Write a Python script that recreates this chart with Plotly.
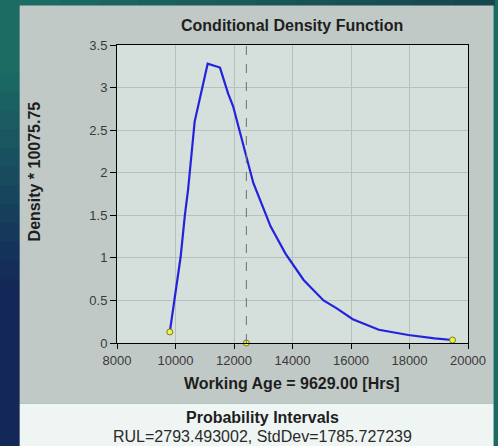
import plotly.graph_objects as go

# ---- data ----
working_age = 9629.00
rul = 2793.493002
std_dev = 1785.727239
density_scale = 10075.75

age_hrs = [9805, 10175, 10320, 10430, 10655, 11100, 11520, 11800, 11970, 12360,
           12660, 13250, 13760, 14380, 15060, 15500, 16060, 16950, 17960, 18860, 19470]
density = [0.13, 1.01, 1.50, 1.80, 2.60, 3.28, 3.235, 2.93, 2.78, 2.27,
           1.88, 1.37, 1.05, 0.74, 0.50, 0.41, 0.28, 0.155, 0.094, 0.055, 0.035]

x_ticks = [8000, 10000, 12000, 14000, 16000, 18000, 20000]
y_ticks = [0, 0.5, 1, 1.5, 2, 2.5, 3, 3.5]
y_tick_labels = ["0", "0.5", "1", "1.5", "2", "2.5", "3", "3.5"]

mean_age = working_age + rul
marker_x = [age_hrs[0], mean_age, age_hrs[-1]]
marker_y = [density[0], 0, density[-1]]

# ---- geometry (pixels) ----
W, H = 498, 446
L, R, T, B = 117, 474, 45, 343
PW, PH = R - L, B - T


def px(xp):
    return (xp - L) / PW


def py(yp):
    return (B - yp) / PH


fig = go.Figure()

fig.add_trace(go.Scatter(
    x=age_hrs, y=density, mode="lines",
    line=dict(color="#2323dc", width=2.2),
    hoverinfo="skip", showlegend=False,
))
fig.add_trace(go.Scatter(
    x=marker_x, y=marker_y, mode="markers",
    marker=dict(color="#f2f246", size=6, line=dict(color="#7a7a20", width=1)),
    hoverinfo="skip", showlegend=False, cliponaxis=False,
))

shapes = []
# left strip gradient
n = 24
top_c = (28, 108, 100)
bot_c = (20, 40, 88)
for i in range(n):
    y0p = -2 + i * (H + 4) / n
    y1p = -2 + (i + 1) * (H + 4) / n + 1.5
    t = min(1.0, max(0.0, (y0p - 60) / 220))
    c = tuple(int(top_c[k] + (bot_c[k] - top_c[k]) * t) for k in range(3))
    shapes.append(dict(type="rect", xref="paper", yref="paper", layer="below",
                       x0=px(-2), x1=px(19), y0=py(y1p), y1=py(y0p),
                       fillcolor="rgb(%d,%d,%d)" % c, line=dict(width=0)))
# top strip gradient
m = 12
left_c = (28, 108, 100)
right_c = (22, 70, 78)
for i in range(m):
    x0p = 18 + i * (W - 18 + 2) / m
    x1p = 18 + (i + 1) * (W - 18 + 2) / m + 1.5
    t = i / (m - 1)
    c = tuple(int(left_c[k] + (right_c[k] - left_c[k]) * t) for k in range(3))
    shapes.append(dict(type="rect", xref="paper", yref="paper", layer="below",
                       x0=px(x0p), x1=px(x1p), y0=py(6), y1=py(-2),
                       fillcolor="rgb(%d,%d,%d)" % c, line=dict(width=0)))
# gray panel
shapes.append(dict(type="rect", xref="paper", yref="paper", layer="below",
                   x0=px(18), x1=px(W + 2), y0=py(403.5), y1=py(5.5),
                   fillcolor="#c1c9c6", line=dict(width=0)))
# plot area background
shapes.append(dict(type="rect", xref="paper", yref="paper", layer="below",
                   x0=0, x1=1, y0=0, y1=1,
                   fillcolor="#d5dfdc", line=dict(width=0)))
# bottom light panel
shapes.append(dict(type="rect", xref="paper", yref="paper", layer="below",
                   x0=px(18), x1=px(W + 2), y0=py(H + 2), y1=py(403.5),
                   fillcolor="#eef5f3", line=dict(width=0)))
# dashed mean line
shapes.append(dict(type="line", xref="x", yref="y",
                   x0=mean_age, x1=mean_age, y0=0, y1=3.5,
                   line=dict(color="#707070", width=1, dash="dash")))

font_family = "Liberation Sans, Arial, sans-serif"

annotations = [
    dict(text="<b>Conditional Density Function</b>", xref="paper", yref="paper",
         x=px(295), y=py(26), showarrow=False, xanchor="center", yanchor="middle",
         font=dict(size=16, color="#1e1e1e", family=font_family)),
    dict(text="<b>Working Age = %.2f [Hrs]</b>" % working_age, xref="paper", yref="paper",
         x=px(295), y=py(383), showarrow=False, xanchor="center", yanchor="middle",
         font=dict(size=16, color="#1e1e1e", family=font_family)),
    dict(text="<b>Density * %.2f</b>" % density_scale, xref="paper", yref="paper",
         x=px(33), y=py(171), showarrow=False, xanchor="center", yanchor="middle",
         textangle=-90, font=dict(size=16, color="#1e1e1e", family=font_family)),
    dict(text="<b>Probability Intervals</b>", xref="paper", yref="paper",
         x=px(265), y=py(417), showarrow=False, xanchor="center", yanchor="middle",
         font=dict(size=16, color="#1e1e1e", family=font_family)),
    dict(text="RUL=%.6f, StdDev=%.6f" % (rul, std_dev), xref="paper", yref="paper",
         x=px(265), y=py(436.5), showarrow=False, xanchor="center", yanchor="middle",
         font=dict(size=16, color="#2a2a2a", family=font_family)),
]

fig.update_layout(
    width=W, height=H,
    margin=dict(l=L, r=W - R, t=T, b=H - B, pad=0),
    paper_bgcolor="#1c6a64",
    plot_bgcolor="#d5dfdc",
    shapes=shapes,
    annotations=annotations,
    showlegend=False,
    font=dict(family=font_family, size=13, color="#3a3a3a"),
)
fig.update_xaxes(
    range=[8000, 20000], tickvals=x_ticks, ticktext=[str(v) for v in x_ticks],
    showgrid=True, gridcolor="#b7c0bd", gridwidth=1,
    showline=True, linecolor="#000000", linewidth=1, mirror=True,
    ticks="outside", ticklen=5, tickcolor="#000000",
    zeroline=False, tickfont=dict(size=13, color="#3a3a3a"),
)
fig.update_yaxes(
    range=[0, 3.5], tickvals=y_ticks, ticktext=y_tick_labels,
    showgrid=True, gridcolor="#b7c0bd", gridwidth=1,
    showline=True, linecolor="#000000", linewidth=1, mirror=True,
    ticks="outside", ticklen=6, tickcolor="#000000",
    zeroline=False, tickfont=dict(size=13, color="#3a3a3a"),
)

fig.write_html(
    "out.html",
    config={"displayModeBar": False},
    post_script="document.body.style.margin='0';document.body.style.padding='0';",
)
